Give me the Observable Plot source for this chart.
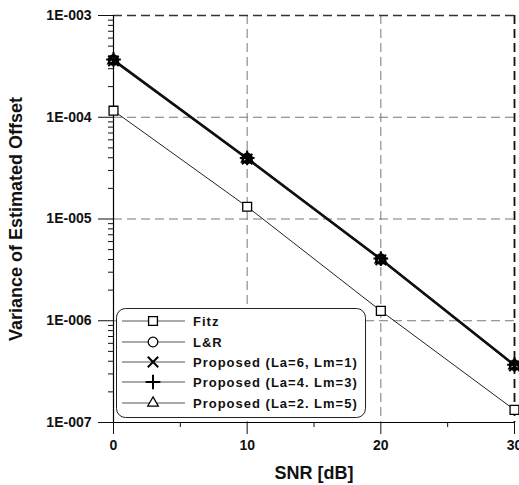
<!DOCTYPE html>
<html><head><meta charset="utf-8">
<script src="https://cdn.jsdelivr.net/npm/d3@7"></script>
<script src="https://cdn.jsdelivr.net/npm/@observablehq/plot@0.6"></script>
<style>
body{margin:0;background:#fff;font-family:"Liberation Sans",Arial,sans-serif}
#wrap{position:relative;width:519px;height:485px;overflow:hidden}
#legend{position:absolute;left:116px;top:308px}
</style></head><body><div id="wrap"></div>
<script>
const snr = [0, 10, 20, 30];
const seriesNames = ["Fitz", "L&R", "Proposed (La=6, Lm=1)", "Proposed (La=4. Lm=3)", "Proposed (La=2. Lm=5)"];
const seriesSymbols = ["square", "circle", "times", "plus", "triangle"];
const fitz = [1.16e-4, 1.32e-5, 1.25e-6, 1.33e-7];
const lr   = [3.65e-4, 3.94e-5, 4.03e-6, 3.66e-7];
const p61  = [3.58e-4, 3.88e-5, 3.97e-6, 3.60e-7];
const p43  = [3.70e-4, 3.98e-5, 4.08e-6, 3.70e-7];
const p25  = [3.62e-4, 3.92e-5, 4.00e-6, 3.63e-7];
const yMajor = [1e-7, 1e-6, 1e-5, 1e-4, 1e-3];
const xMajor = [0, 10, 20, 30];
const xMinor = [5, 15, 25];
const xTitle = "SNR [dB]";
const yTitle = "Variance of Estimated Offset";

const allValues = [fitz, lr, p61, p43, p25];
const data = [];
allValues.forEach((vals, i) => vals.forEach((v, j) => data.push({series: seriesNames[i], symbol: seriesSymbols[i], x: snr[j], y: v, idx: i})));

const yMinor = [];
for (let e = -7; e < -3; e++) for (let m = 2; m <= 9; m++) yMinor.push(m * Math.pow(10, e));

const fmt = d => "1E-" + String(Math.round(-Math.log10(d))).padStart(3, "0");
const FF = "Liberation Sans, Arial, sans-serif";
const symR = {square: 5, circle: 4.8, times: 4.8, plus: 4.8, triangle: 3.9};

const dotMarks = seriesSymbols.map((s, i) => Plot.dot(data.filter(d => d.idx === i), {
  x: "x", y: "y", symbol: s, r: symR[s], stroke: "#000",
  strokeWidth: i === 0 ? 1.3 : 2, fill: i === 0 ? "white" : "none"
}));

const chart = Plot.plot({
  width: 519, height: 485,
  marginLeft: 113, marginRight: 5, marginTop: 15, marginBottom: 63,
  style: {fontFamily: FF, fontSize: "14px", fontWeight: "bold", color: "#111", background: "#fff"},
  x: {domain: [0, 30]},
  y: {type: "log", domain: [1e-7, 1e-3]},
  marks: [
    Plot.ruleX([10, 20], {stroke: "#777", strokeDasharray: "9,5", strokeWidth: 1}),
    Plot.ruleX([30], {stroke: "#111", strokeDasharray: "9,5", strokeWidth: 1.8}),
    Plot.ruleY([1e-6, 1e-5, 1e-4], {stroke: "#777", strokeDasharray: "9,5", strokeWidth: 1}),
    Plot.ruleY([1e-3], {stroke: "#333", strokeDasharray: "9,5", strokeWidth: 1.3}),
    Plot.ruleX([0], {stroke: "#000", strokeWidth: 1.2}),
    Plot.ruleY([1e-7], {stroke: "#000", strokeWidth: 1.2}),
    Plot.axisY(yMajor, {tickFormat: fmt, tickSize: 15, tickPadding: 7, fontSize: 14, fontWeight: "bold", label: null}),
    Plot.axisY(yMinor, {tickSize: 5, text: null, label: null}),
    Plot.axisX(xMajor, {tickSize: 12, tickPadding: 6, fontSize: 14, fontWeight: "bold", label: null}),
    Plot.axisX(xMinor, {tickSize: 5, text: null, label: null}),
    Plot.text([yTitle], {frameAnchor: "left", textAnchor: "middle", lineAnchor: "middle", rotate: -90, dx: -97, fontSize: 18, fontWeight: "bold", fill: "#111"}),
    Plot.text([xTitle], {frameAnchor: "bottom", textAnchor: "middle", lineAnchor: "middle", dy: 51, fontSize: 18, fontWeight: "bold", fill: "#111"}),
    Plot.line(data.filter(d => d.idx === 0), {x: "x", y: "y", stroke: "#222", strokeWidth: 1}),
    Plot.line(data.filter(d => d.idx > 0), {x: "x", y: "y", z: "series", stroke: "#111", strokeWidth: 1.6}),
    ...dotMarks
  ]
});

const wrap = document.getElementById("wrap");
wrap.appendChild(chart);

// legend overlay
const lw = 250, lh = 110;
const leg = d3.create("svg").attr("id", "legend").attr("width", lw + 2).attr("height", lh + 2);
leg.append("rect").attr("x", 0.5).attr("y", 0.5).attr("width", lw - 1).attr("height", lh - 1)
  .attr("rx", 9).attr("fill", "white").attr("stroke", "#222").attr("stroke-width", 1);
const rowY = [13, 34, 54, 74, 95];
const symMap = {square: d3.symbolSquare, circle: d3.symbolCircle, times: d3.symbolTimes, plus: d3.symbolPlus, triangle: d3.symbolTriangle};
seriesNames.forEach((name, i) => {
  const g = leg.append("g").attr("transform", `translate(0,${rowY[i]})`);
  g.append("line").attr("x1", 6).attr("x2", 69).attr("y1", 0).attr("y2", 0).attr("stroke", "#555").attr("stroke-width", 1);
  const s = seriesSymbols[i];
  const r = symR[s];
  g.append("path").attr("transform", "translate(37,0)").attr("d", d3.symbol(symMap[s], r * r * Math.PI)())
    .attr("fill", (s === "times" || s === "plus") ? "none" : "white").attr("stroke", "#000")
    .attr("stroke-width", (s === "times" || s === "plus") ? 2 : 1.3);
  g.append("text").attr("x", 77).attr("y", 0).attr("dy", "0.36em").text(name)
    .style("font-family", FF).style("font-weight", "bold")
    .style("font-size", "13px").style("letter-spacing", "1px").attr("fill", "#111");
});
wrap.appendChild(leg.node());
</script>
</body></html>
